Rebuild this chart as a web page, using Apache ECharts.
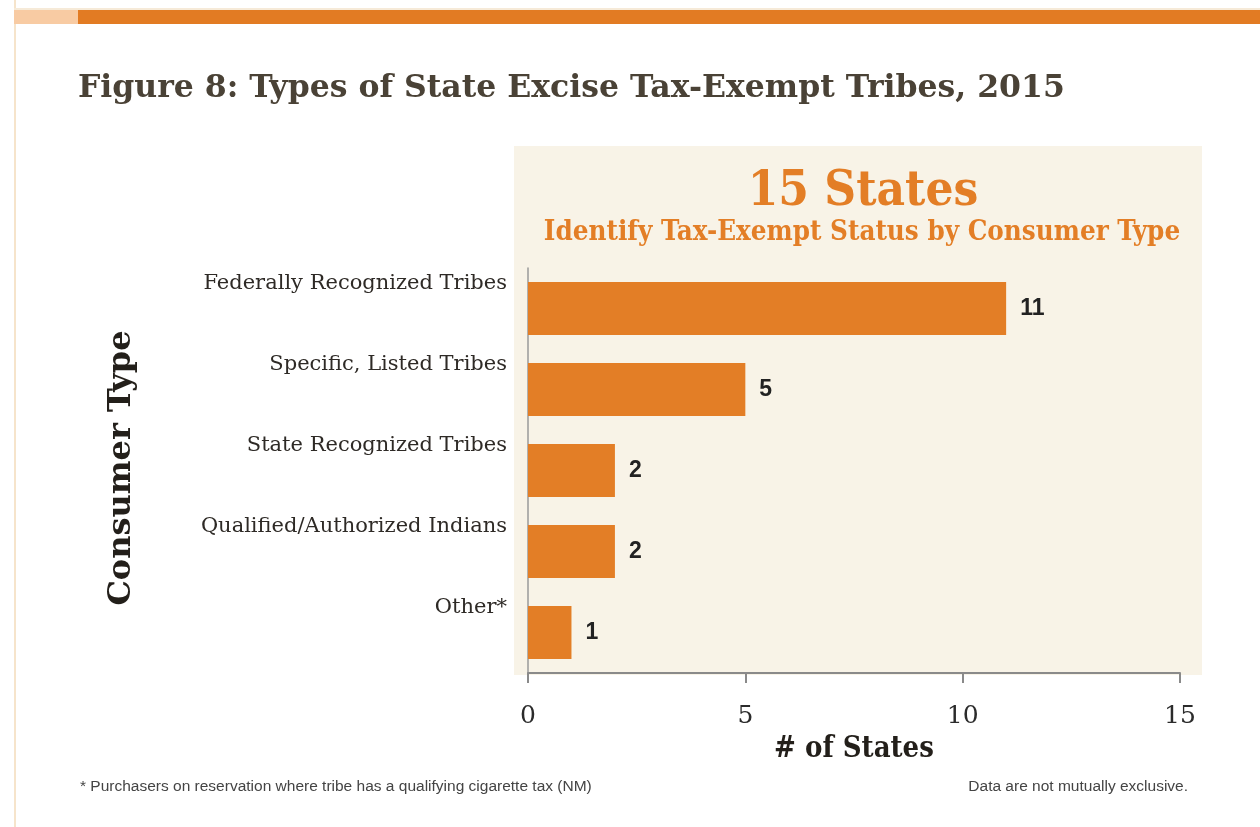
<!DOCTYPE html>
<html>
<head>
<meta charset="utf-8">
<script src="https://cdn.jsdelivr.net/npm/echarts@6/dist/echarts.min.js"></script>
<style>
  html, body { margin: 0; padding: 0; background: #ffffff; }
  #chart { width: 1260px; height: 827px; }
</style>
</head>
<body>
<div id="chart"></div>
<script>
// Consumer types, top to bottom, and the number of states using each
const categories = [
  'Federally Recognized Tribes',
  'Specific, Listed Tribes',
  'State Recognized Tribes',
  'Qualified/Authorized Indians',
  'Other*'
];
const stateCounts = [11, 5, 2, 2, 1];
const xTicks = [0, 5, 10, 15];

const ORANGE = '#e37e26';
const SERIF_WIDE = '"DejaVu Serif", Georgia, serif';
const SERIF_COND = '"DejaVu Serif Condensed", "Liberation Serif", serif';
const SANS = '"Liberation Sans", Arial, sans-serif';

const chart = echarts.init(document.getElementById('chart'), null, { renderer: 'canvas' });

chart.setOption({
  backgroundColor: '#ffffff',
  animation: false,
  grid: { left: 528, right: 80, top: 268, bottom: 154, containLabel: false },
  xAxis: {
    type: 'value',
    min: xTicks[0],
    max: xTicks[xTicks.length - 1],
    interval: xTicks[1] - xTicks[0],
    splitLine: { show: false },
    axisLine: { show: true, lineStyle: { color: '#8a8a8a', width: 2 } },
    axisTick: { show: true, inside: false, length: 10, lineStyle: { color: '#8a8a8a', width: 2 } },
    axisLabel: {
      margin: 31,
      fontFamily: SERIF_WIDE,
      fontSize: 25,
      color: '#2b2b2b'
    },
    name: '# of States',
    nameLocation: 'middle',
    nameGap: 62,
    nameTextStyle: {
      fontFamily: SERIF_COND,
      fontWeight: 'bold',
      fontSize: 29,
      color: '#231f1a'
    }
  },
  yAxis: {
    type: 'category',
    data: categories,
    inverse: true,
    axisLine: { show: true, lineStyle: { color: '#9a9a9a', width: 1.5 } },
    axisTick: { show: false },
    splitLine: { show: false },
    axisLabel: {
      interval: 0,
      showMinLabel: true,
      showMaxLabel: true,
      hideOverlap: false,
      margin: 21,
      fontFamily: SERIF_WIDE,
      fontSize: 21,
      color: '#2e2a26',
      lineHeight: 50,
      // an empty second line lifts each name level with the top of its bar
      formatter: (v) => v + '\n '
    }
  },
  series: [{
    type: 'bar',
    data: stateCounts,
    barWidth: 53,
    itemStyle: { color: ORANGE },
    label: {
      show: true,
      position: 'right',
      distance: 14,
      fontFamily: SANS,
      fontWeight: 'bold',
      fontSize: 23,
      color: '#222222'
    }
  }],
  graphic: [
    // thin left margin rule
    { type: 'rect', z: -20, shape: { x: 14, y: 0, width: 2, height: 827 }, style: { fill: '#f6e4cb' } },
    // header strip
    { type: 'rect', z: -20, shape: { x: 14, y: 8, width: 1246, height: 2 }, style: { fill: '#f6ead8' } },
    { type: 'rect', z: -19, shape: { x: 14, y: 10, width: 64, height: 14 }, style: { fill: '#f8cba3' } },
    { type: 'rect', z: -19, shape: { x: 78, y: 10, width: 1182, height: 14 }, style: { fill: '#e27b23' } },
    // cream panel behind the plot
    { type: 'rect', z: -30, shape: { x: 514, y: 146, width: 688, height: 529 }, style: { fill: '#f8f3e7' } },
    // figure title
    {
      type: 'text', z: 10, x: 78, y: 89,
      style: {
        text: 'Figure 8: Types of State Excise Tax-Exempt Tribes, 2015',
        align: 'left', verticalAlign: 'middle',
        fontFamily: SERIF_WIDE, fontWeight: 'bold', fontSize: 31.5, fill: '#4a4236'
      }
    },
    // panel headline
    {
      type: 'text', z: 10, x: 863, y: 192,
      style: {
        text: '15 States', align: 'center', verticalAlign: 'middle',
        fontFamily: SERIF_COND, fontWeight: 'bold', fontSize: 49, fill: ORANGE
      }
    },
    {
      type: 'text', z: 10, x: 862, y: 233,
      style: {
        text: 'Identify Tax-Exempt Status by Consumer Type', align: 'center', verticalAlign: 'middle',
        fontFamily: SERIF_COND, fontWeight: 'bold', fontSize: 27.5, fill: ORANGE
      }
    },
    // vertical axis title
    {
      type: 'text', z: 10, x: 122, y: 468, rotation: Math.PI / 2,
      style: {
        text: 'Consumer Type', align: 'center', verticalAlign: 'middle',
        fontFamily: SERIF_WIDE, fontWeight: 'bold', fontSize: 32, fill: '#231f1a'
      }
    },
    // footnotes
    {
      type: 'text', z: 10, x: 80, y: 787,
      style: {
        text: '* Purchasers on reservation where tribe has a qualifying cigarette tax (NM)',
        align: 'left', verticalAlign: 'middle',
        fontFamily: SANS, fontSize: 15.5, fill: '#444444'
      }
    },
    {
      type: 'text', z: 10, x: 1188, y: 787,
      style: {
        text: 'Data are not mutually exclusive.',
        align: 'right', verticalAlign: 'middle',
        fontFamily: SANS, fontSize: 15.5, fill: '#444444'
      }
    }
  ]
});
</script>
</body>
</html>
